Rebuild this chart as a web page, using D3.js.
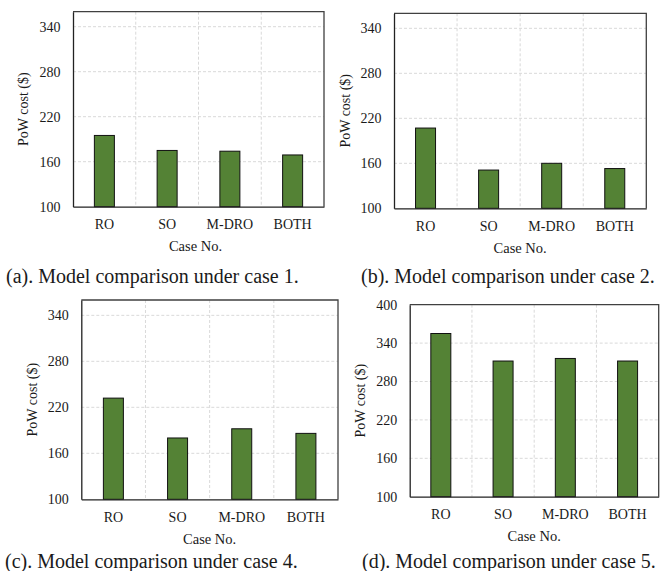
<!DOCTYPE html>
<html>
<head>
<meta charset="utf-8">
<script src="https://cdn.jsdelivr.net/npm/d3@7"></script>
<style>
  html, body { margin: 0; padding: 0; background: #fff; }
  svg { display: block; }
  text { font-family: "Liberation Serif", "Times New Roman", serif; fill: #1a1a1a; }
</style>
</head>
<body>
<svg id="chart" width="665" height="571"></svg>
<script>
// Models compared in every case
const models = ["RO", "SO", "M-DRO", "BOTH"];

// PoW cost ($) per model, one array per case
const case1Cost = [195, 175, 174, 169];
const case2Cost = [207, 151, 160, 153];
const case4Cost = [232, 180, 192, 186];
const case5Cost = [355, 312, 316, 312];

// Y-axis ticks
const ticksLow = [100, 160, 220, 280, 340];
const ticksHigh = [100, 160, 220, 280, 340, 400];

// Sub-figure captions
const captions = [
  "(a). Model comparison under case 1.",
  "(b). Model comparison under case 2.",
  "(c). Model comparison under case 4.",
  "(d). Model comparison under case 5."
];

const yTitle = "PoW cost ($)";
const xTitle = "Case No.";

const svg = d3.select("#chart");

// Plot frames for the four sub-figures
const panels = [
  { values: case1Cost, ticks: ticksLow,  yMax: 360, caption: captions[0],
    left: 73,  top: 11.7,  right: 324,   bottom: 206.7, yLabelX: 25,  xTitleDx: -3, capX: 6,   capY: 282.5 },
  { values: case2Cost, ticks: ticksLow,  yMax: 360, caption: captions[1],
    left: 394, top: 13.3,  right: 646.3, bottom: 208.3, yLabelX: 347, xTitleDx: 0, capX: 361, capY: 282.5 },
  { values: case4Cost, ticks: ticksLow,  yMax: 360, caption: captions[2],
    left: 81.3, top: 300,  right: 338,   bottom: 499.3, yLabelX: 33.5, xTitleDx: 0, capX: 5,  capY: 568 },
  { values: case5Cost, ticks: ticksHigh, yMax: 400, caption: captions[3],
    left: 409.7, top: 304.7, right: 658.7, bottom: 496.7, yLabelX: 362, xTitleDx: 0, capX: 362, capY: 568 }
];

const green = "#548235";
const gridColor = "#d9d9d9";
const serif = '"Liberation Serif", "Times New Roman", serif';

panels.forEach(p => {
  const x = d3.scaleBand().domain(models).range([p.left, p.right]).paddingInner(0).paddingOuter(0);
  const y = d3.scaleLinear().domain([100, p.yMax]).range([p.bottom, p.top]);
  const barW = 20;

  const g = svg.append("g");

  // horizontal grid
  g.append("g").selectAll("line")
    .data(p.ticks.filter(t => t > 100 && t < p.yMax))
    .join("line")
    .attr("x1", p.left).attr("x2", p.right)
    .attr("y1", d => y(d)).attr("y2", d => y(d))
    .attr("stroke", gridColor).attr("stroke-width", 1).attr("stroke-dasharray", "3,2");

  // vertical grid at band boundaries
  g.append("g").selectAll("line")
    .data(models.slice(1))
    .join("line")
    .attr("x1", d => x(d)).attr("x2", d => x(d))
    .attr("y1", p.top).attr("y2", p.bottom)
    .attr("stroke", gridColor).attr("stroke-width", 1).attr("stroke-dasharray", "3,2");

  // bars
  g.append("g").selectAll("rect")
    .data(models.map((m, i) => ({ m, v: p.values[i] })))
    .join("rect")
    .attr("x", d => x(d.m) + x.bandwidth() / 2 - barW / 2)
    .attr("width", barW)
    .attr("y", d => y(d.v))
    .attr("height", d => y(100) - y(d.v))
    .attr("fill", green)
    .attr("stroke", "#111").attr("stroke-width", 1);

  // frame: top and right
  g.append("path")
    .attr("d", `M${p.left},${p.top}H${p.right}V${p.bottom}`)
    .attr("fill", "none").attr("stroke", "#404040").attr("stroke-width", 1.3);

  // y axis
  const yAxis = d3.axisLeft(y).tickValues(p.ticks).tickSize(0).tickPadding(12.5).tickFormat(d3.format("d"));
  const ya = g.append("g").attr("transform", `translate(${p.left},0)`).call(yAxis)
    .attr("font-family", null).attr("font-size", null);
  ya.select(".domain").attr("stroke", "#222").attr("stroke-width", 1.3);
  ya.selectAll("text").style("font-family", serif).style("font-size", "14px").attr("fill", "#1a1a1a");

  // x axis
  const xAxis = d3.axisBottom(x).tickSize(0).tickPadding(12.5);
  const xa = g.append("g").attr("transform", `translate(0,${p.bottom})`).call(xAxis)
    .attr("font-family", null).attr("font-size", null);
  xa.select(".domain").attr("stroke", "#222").attr("stroke-width", 1.3);
  xa.selectAll("text").style("font-family", serif).style("font-size", "14px").attr("fill", "#1a1a1a");

  // axis titles
  g.append("text")
    .attr("transform", `translate(${p.yLabelX},${(p.top + p.bottom) / 2}) rotate(-90)`)
    .attr("text-anchor", "middle").attr("dominant-baseline", "middle")
    .style("font-size", "14px")
    .text(yTitle);

  g.append("text")
    .attr("x", (p.left + p.right) / 2 + p.xTitleDx)
    .attr("y", p.bottom + 44.5)
    .attr("text-anchor", "middle")
    .style("font-size", "14.5px")
    .text(xTitle);

  // caption
  g.append("text")
    .attr("x", p.capX).attr("y", p.capY)
    .style("font-size", "20px")
    .attr("fill", "#000")
    .text(p.caption);
});
</script>
</body>
</html>
